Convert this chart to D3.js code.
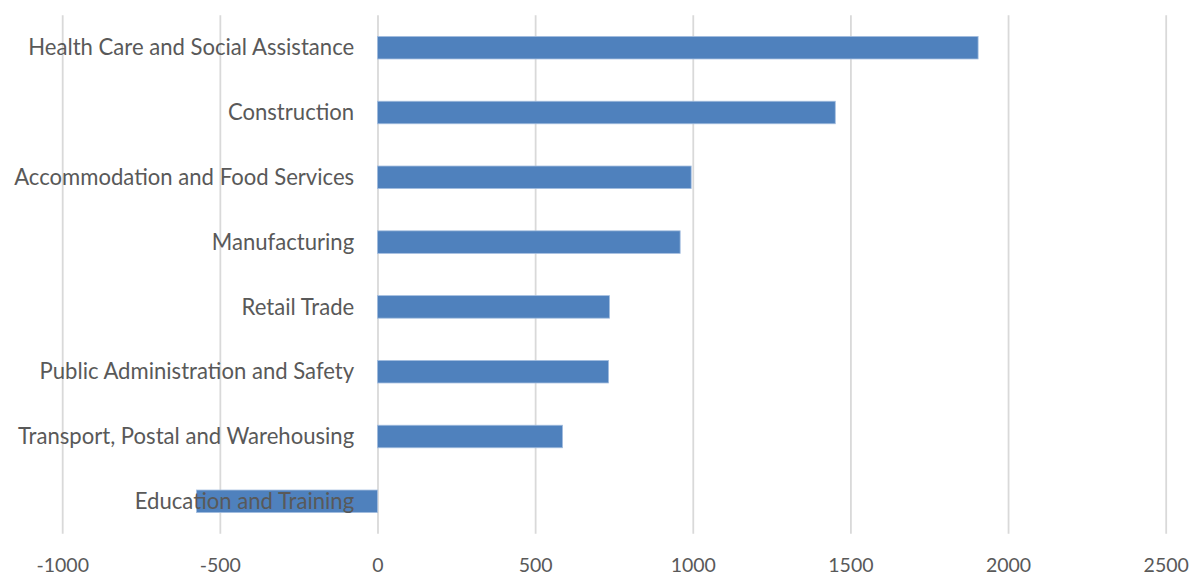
<!DOCTYPE html>
<html>
<head>
<meta charset="utf-8">
<script src="https://cdn.jsdelivr.net/npm/d3@7"></script>
<style>
  html, body { margin: 0; padding: 0; background: #ffffff; }
  svg { display: block; }
  .lbl { font-family: Lato, "Open Sans", sans-serif; fill: #595959; }
</style>
</head>
<body>
<svg id="chart" width="1198" height="575"></svg>
<script>
// Data
const categories = [
  "Health Care and Social Assistance",
  "Construction",
  "Accommodation and Food Services",
  "Manufacturing",
  "Retail Trade",
  "Public Administration and Safety",
  "Transport, Postal and Warehousing",
  "Education and Training"
];
const values = [1905, 1452, 995, 960, 736, 733, 587, -574];
const xTicks = [-1000, -500, 0, 500, 1000, 1500, 2000, 2500];
const xTickLabels = ["-1000", "-500", "0", "500", "1000", "1500", "2000", "2500"];

const W = 1198, H = 575;
const margin = { left: 62.2, right: W - 1165.7, top: 15.3, bottom: H - 533.7 };

const svg = d3.select("#chart");

const x = d3.scaleLinear()
  .domain([-1000, 2500])
  .range([margin.left, W - margin.right]);

const y = d3.scaleBand()
  .domain(categories)
  .range([margin.top, H - margin.bottom])
  .paddingInner(0.652)
  .paddingOuter(0.326);

// Gridlines via axis
const grid = svg.append("g")
  .attr("transform", `translate(0,${margin.top})`)
  .call(d3.axisBottom(x).tickValues(xTicks).tickSize(H - margin.bottom - margin.top).tickFormat(""));
grid.select(".domain").remove();
grid.selectAll(".tick line").attr("stroke", "#d9d9d9").attr("stroke-width", 1.8);

// Bars
svg.append("g").selectAll("rect")
  .data(categories.map((c, i) => ({ c, v: values[i] })))
  .join("rect")
  .attr("x", d => x(Math.min(0, d.v)))
  .attr("width", d => Math.abs(x(d.v) - x(0)))
  .attr("y", d => y(d.c))
  .attr("height", y.bandwidth())
  .attr("fill", "#4f81bd")
  .attr("stroke", "#a4bedf")
  .attr("stroke-width", 0.8);

// X tick labels
const xAxis = svg.append("g")
  .attr("transform", `translate(0,${H - margin.bottom})`)
  .call(d3.axisBottom(x).tickValues(xTicks).tickSize(0).tickPadding(24)
    .tickFormat((d, i) => xTickLabels[i]));
xAxis.select(".domain").remove();
xAxis.selectAll("text").attr("class", "lbl").attr("font-size", 19.5).attr("fill", "#595959")
  .style("font-family", "Lato, 'Open Sans', sans-serif");

// Category labels (right-aligned, left of zero)
const catG = svg.append("g");
const labels = catG.selectAll("text")
  .data(categories)
  .join("text")
  .attr("class", "lbl")
  .attr("x", x(0) - 23.3)
  .attr("y", d => y(d) + y.bandwidth() / 2)
  .attr("dy", "0.35em")
  .attr("text-anchor", "end")
  .attr("font-size", 20)
  .text(d => d);

// Fit font size so longest label matches the reference width (~326px)
const longest = labels.filter(d => d === categories[0]).node();
const w = longest.getComputedTextLength();
const fs = 20 * 326 / w;
labels.attr("font-size", fs);
</script>
</body>
</html>
